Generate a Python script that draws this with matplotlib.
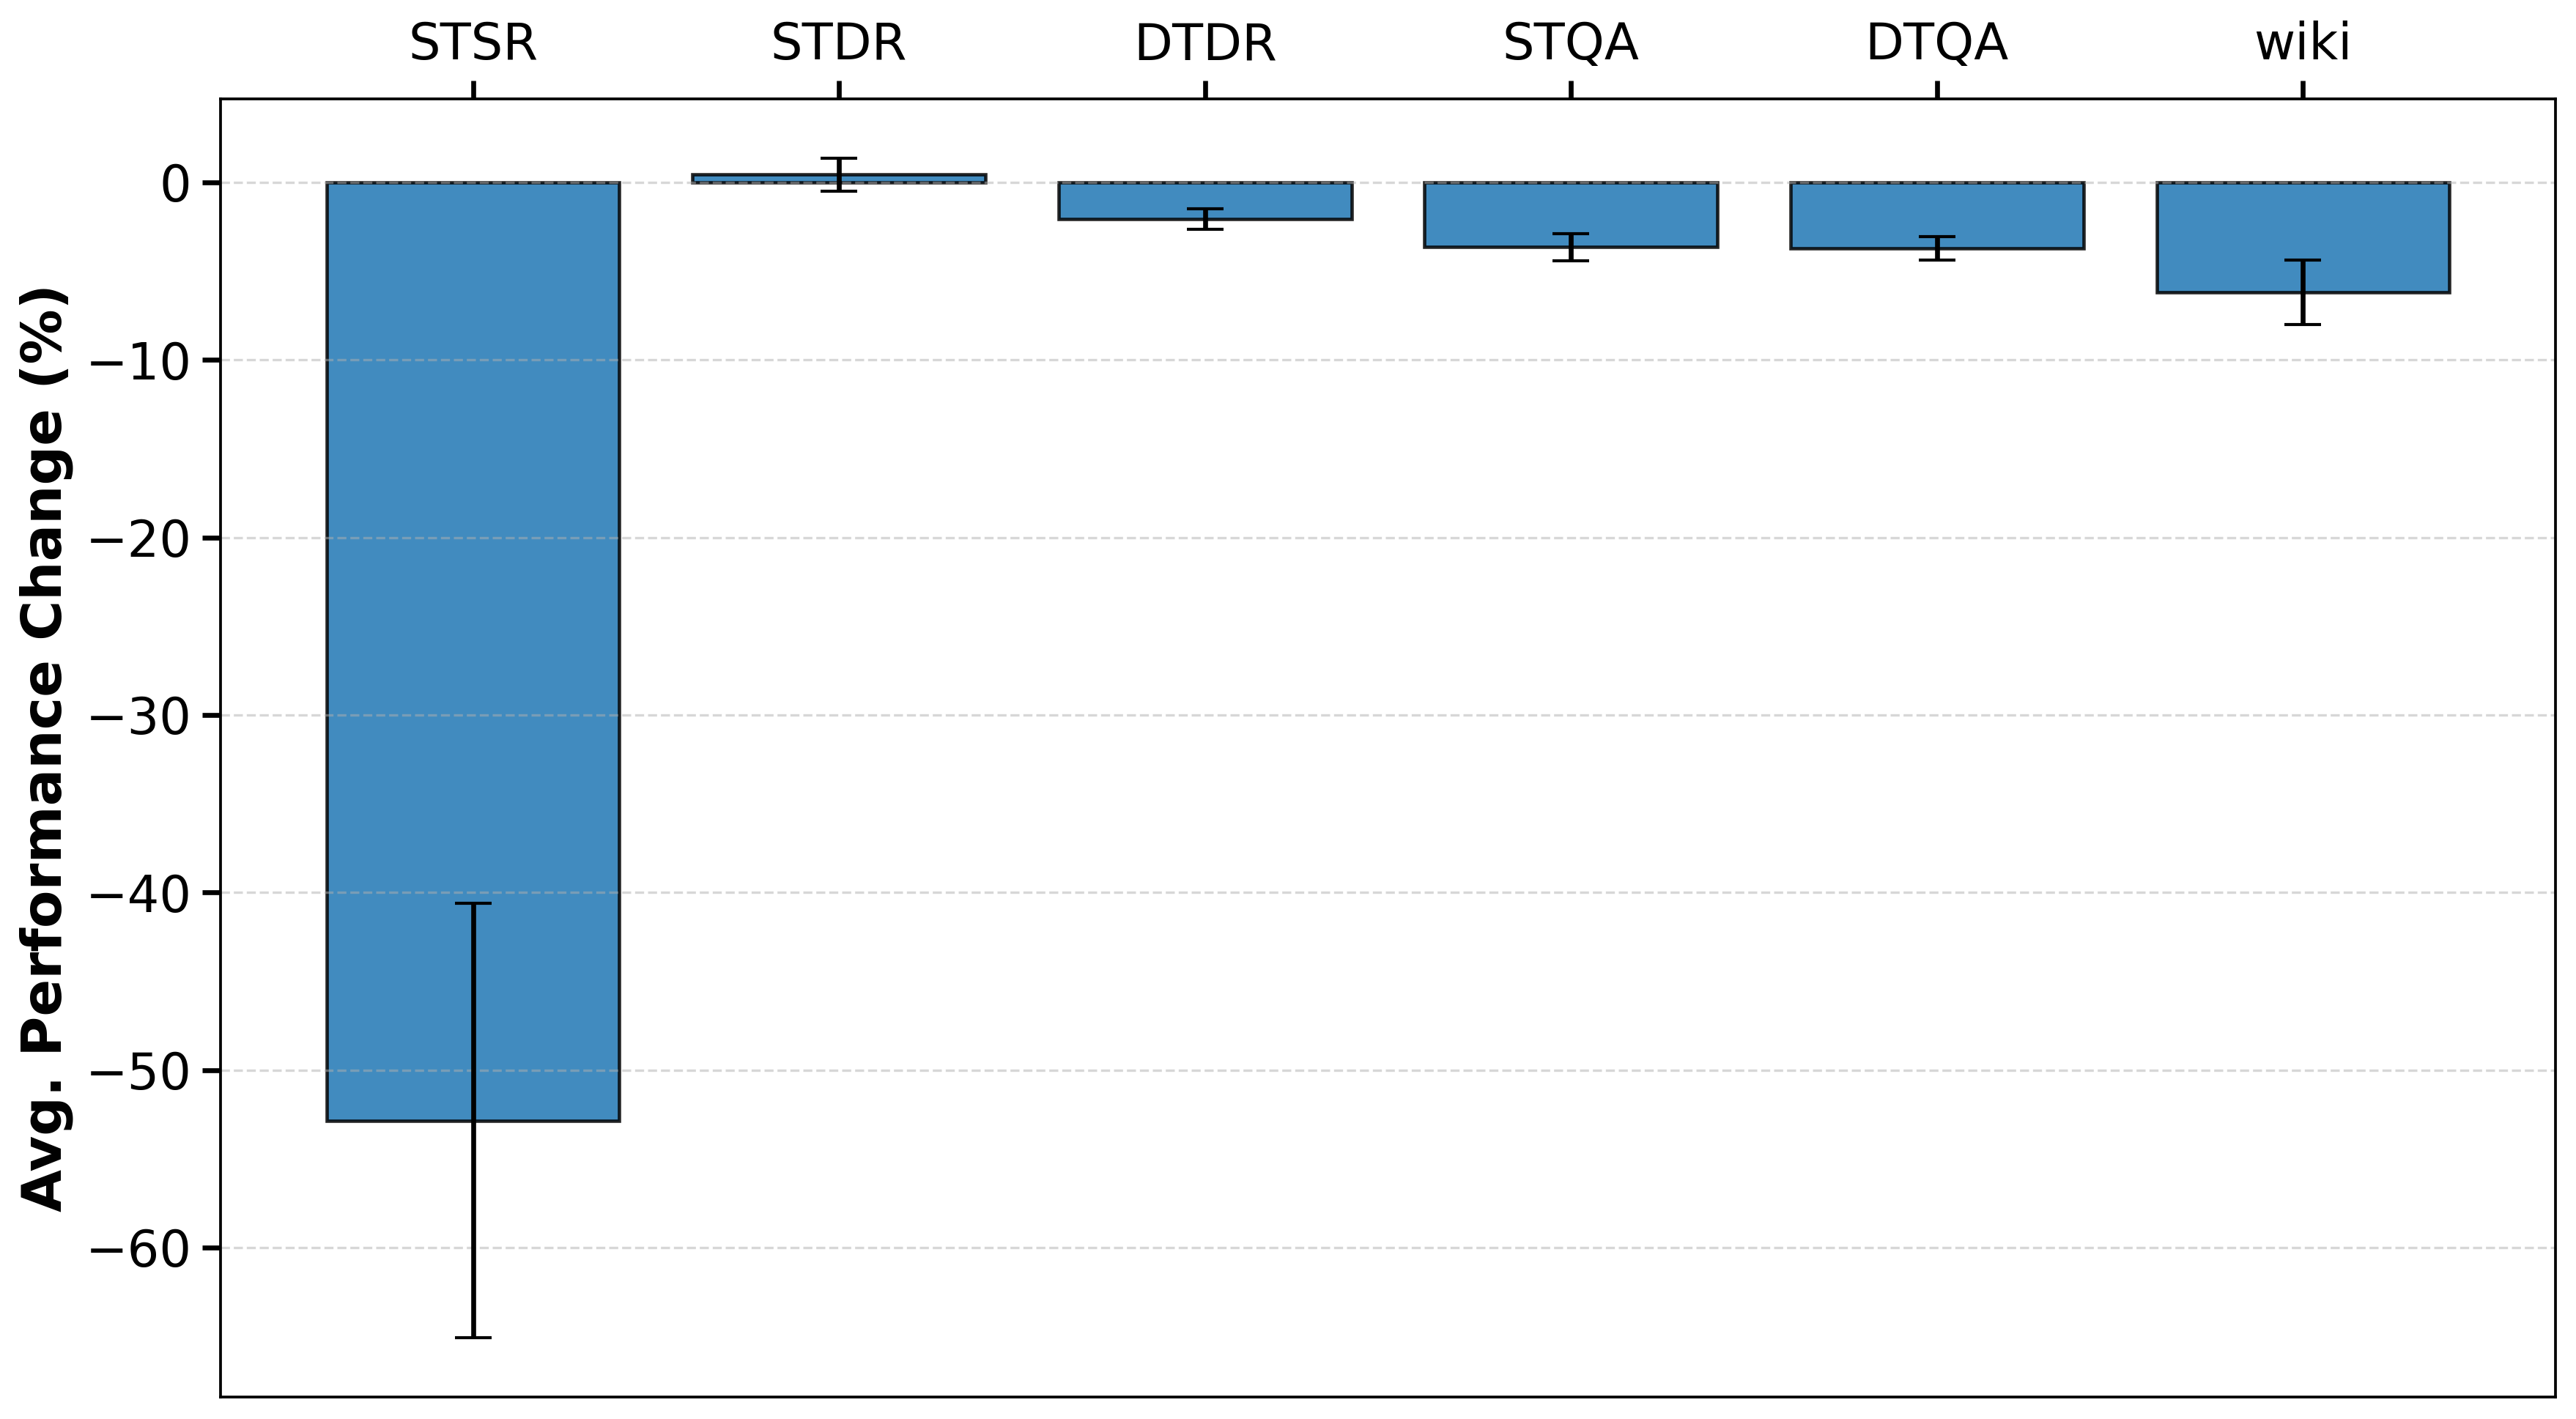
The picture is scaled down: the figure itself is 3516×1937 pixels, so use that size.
import matplotlib
matplotlib.use("Agg")
import matplotlib.pyplot as plt
import numpy as np

categories = ["STSR", "STDR", "DTDR", "STQA", "DTQA", "wiki"]
mean_change = [-52.85, 0.45, -2.07, -3.65, -3.72, -6.19]
err_change = [12.25, 0.93, 0.57, 0.78, 0.67, 1.82]

plt.rcParams['font.family'] = ['DejaVu Sans']

fig = plt.figure(figsize=(3516 / 300, 1937 / 300), dpi=300)
ax = fig.add_axes([301 / 3516, 1 - 1907 / 1937, (3488 - 301) / 3516, (1907 - 135) / 1937])

x = np.arange(len(categories))
ax.bar(x, mean_change, width=0.8, color="tab:blue", edgecolor="black",
       linewidth=1.1, alpha=0.85)
ax.errorbar(x, mean_change, yerr=err_change, fmt="none", ecolor="black",
            elinewidth=1.6, capsize=6, capthick=1.0)

ax.xaxis.tick_top()
ax.set_xticks(x)
ax.set_xticklabels(categories)
ax.tick_params(axis="both", labelsize=16.5, length=6, width=1.6)
for s in ax.spines.values():
    s.set_linewidth(0.9)

ax.yaxis.grid(True, linestyle="--", alpha=0.5, color="#b0b0b0", linewidth=0.8)
ax.xaxis.grid(False)

ax.set_ylabel("Avg. Performance Change (%)", fontsize=18, fontweight="bold")

fig.savefig("out.png", dpi=300)
